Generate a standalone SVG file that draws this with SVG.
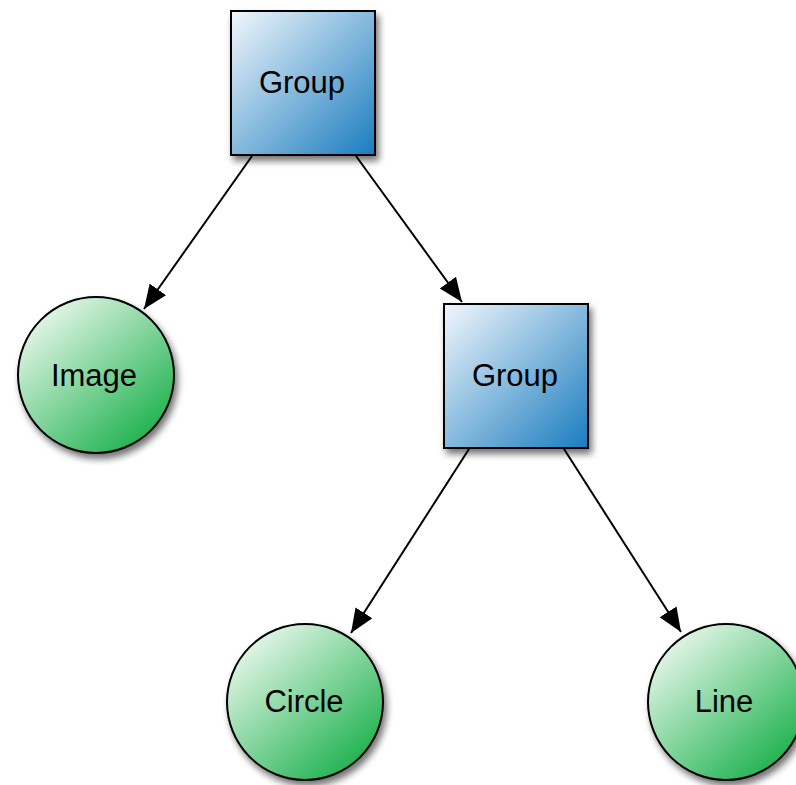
<svg xmlns="http://www.w3.org/2000/svg" width="796" height="785" viewBox="0 0 796 785">
  <defs>
    <linearGradient id="blueFill" x1="0" y1="0" x2="1" y2="1">
      <stop offset="0" stop-color="#f2f7fc"/>
      <stop offset="1" stop-color="#1a7cbf"/>
    </linearGradient>
    <linearGradient id="greenFill" x1="0.15" y1="0.1" x2="0.85" y2="0.9">
      <stop offset="0" stop-color="#e4f6e8"/>
      <stop offset="1" stop-color="#1fb24f"/>
    </linearGradient>
    <filter id="shadow" x="-20%" y="-20%" width="150%" height="150%">
      <feGaussianBlur in="SourceAlpha" stdDeviation="3.5"/>
      <feOffset dx="3" dy="5" result="blur"/>
      <feComponentTransfer><feFuncA type="linear" slope="0.55"/></feComponentTransfer>
      <feMerge><feMergeNode/><feMergeNode in="SourceGraphic"/></feMerge>
    </filter>
    <marker id="arrow" markerUnits="userSpaceOnUse" markerWidth="26" markerHeight="22" viewBox="0 0 26 22" refX="24" refY="11" orient="auto">
      <path d="M0,1 L24,11 L0,21 Z" fill="#000"/>
    </marker>
  </defs>
  <style>
    .box { fill: url(#blueFill); stroke: #000; stroke-width: 2; filter: url(#shadow); }
    .leaf { fill: url(#greenFill); stroke: #000; stroke-width: 2; filter: url(#shadow); }
    .label { font-family: "Liberation Sans", Arial, sans-serif; font-size: 31px; fill: #000; text-anchor: middle; }
    .edge { stroke: #000; stroke-width: 2; fill: none; marker-end: url(#arrow); }
  </style>

  <g id="connectors">
    <line class="edge" x1="252" y1="156" x2="144" y2="309"/>
    <line class="edge" x1="356" y1="156" x2="462" y2="302"/>
    <line class="edge" x1="469" y1="449" x2="351" y2="633"/>
    <line class="edge" x1="564" y1="449" x2="681" y2="632"/>
  </g>

  <g id="group-root">
    <rect class="box" x="231" y="11" width="144" height="144"/>
    <text class="label" x="302" y="93">Group</text>
  </g>

  <g id="image">
    <circle class="leaf" cx="96" cy="375" r="78"/>
    <text class="label" x="94" y="386">Image</text>
  </g>

  <g id="group-child">
    <rect class="box" x="444" y="304" width="144" height="144"/>
    <text class="label" x="515" y="386">Group</text>
  </g>

  <g id="circle">
    <circle class="leaf" cx="305" cy="702" r="78"/>
    <text class="label" x="304" y="712">Circle</text>
  </g>

  <g id="line">
    <circle class="leaf" cx="726" cy="702" r="78"/>
    <text class="label" x="724" y="712">Line</text>
  </g>
</svg>
